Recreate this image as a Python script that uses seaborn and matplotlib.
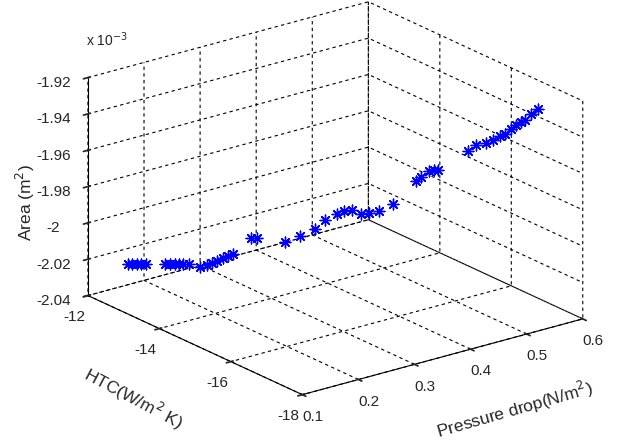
import numpy as np
import pandas as pd
import matplotlib
matplotlib.use("Agg")
import matplotlib.pyplot as plt
import seaborn as sns
from matplotlib.ticker import FuncFormatter

# Data (area in units of 1e-3 m^2)
pressure_drop = [0.141, 0.145, 0.150, 0.153, 0.159, 0.178, 0.183, 0.188, 0.192, 0.196,
                 0.202, 0.213, 0.220, 0.2255, 0.2305, 0.2365, 0.2416, 0.2466, 0.2647, 0.2707,
                 0.2988, 0.3139, 0.3289, 0.3390, 0.352, 0.359, 0.367, 0.3761, 0.3841, 0.3942,
                 0.4082, 0.4313, 0.4364, 0.4444, 0.4494, 0.4534, 0.4845, 0.4926, 0.5026, 0.5096,
                 0.5167, 0.5217, 0.5277, 0.5327, 0.5378, 0.5418, 0.5478, 0.5548]
htc = [-12.49, -12.54, -12.60, -12.64, -12.71, -12.94, -13.00, -13.06, -13.11, -13.16,
       -13.23, -13.36, -13.45, -13.51, -13.57, -13.64, -13.70, -13.76, -13.98, -14.05,
       -14.39, -14.57, -14.75, -14.87, -15.02, -15.11, -15.20, -15.31, -15.41, -15.53,
       -15.70, -15.98, -16.04, -16.13, -16.19, -16.24, -16.61, -16.71, -16.83, -16.92,
       -17.00, -17.06, -17.13, -17.19, -17.25, -17.30, -17.37, -17.46]
area = [-2.0218, -2.0217, -2.0215, -2.0214, -2.0213, -2.0208, -2.0206, -2.0205, -2.0204, -2.0203,
        -2.0201, -2.0215, -2.0202, -2.0190, -2.0177, -2.0159, -2.0147, -2.0134, -2.0041, -2.0040,
        -2.0054, -2.0017, -1.9974, -1.9922, -1.9885, -1.9867, -1.9859, -1.9879, -1.9871, -1.9857,
        -1.9815, -1.9682, -1.9658, -1.9628, -1.9622, -1.9620, -1.9507, -1.9472, -1.9458, -1.9440,
        -1.9416, -1.9403, -1.9374, -1.9351, -1.9333, -1.9321, -1.9286, -1.9256]

x_ticks = [0.1, 0.2, 0.3, 0.4, 0.5, 0.6]
y_ticks = [-18, -16, -14, -12]
z_ticks = [-2.04, -2.02, -2.00, -1.98, -1.96, -1.94, -1.92]

df = pd.DataFrame({"pressure": pressure_drop, "htc": htc, "area": area})

sns.set_theme(style="white")
plt.rcParams["font.family"] = ["Liberation Sans", "DejaVu Sans"]
plt.rcParams["font.size"] = 10.5

fig = plt.figure(figsize=(6.25, 4.42), dpi=100)
ax = fig.add_axes([0.027, 0.038, 1.0, 1.0], projection="3d")
ax.set_proj_type("ortho")
ax.view_init(elev=20.7, azim=-127.4)
ax.set_box_aspect((1, 1, 0.66), zoom=1.21)

blue = sns.color_palette(["#0000ff"])[0]
ax.scatter(df["pressure"], df["htc"], df["area"], marker=(8, 2, 0), s=60,
           color=blue, linewidths=1.0, depthshade=False)

ax.set_xlim(0.1, 0.6)
ax.set_ylim(-18, -12)
ax.set_zlim(-2.04, -1.92)
ax.set_xticks(x_ticks)
ax.set_yticks(y_ticks)
ax.set_zticks(z_ticks)
fmt = FuncFormatter(lambda v, p: f"{v:g}")
ax.xaxis.set_major_formatter(fmt)
ax.yaxis.set_major_formatter(fmt)
ax.zaxis.set_major_formatter(FuncFormatter(lambda v, p: f"{round(v, 2):g}"))
ax.xaxis.set_tick_params(pad=0)
ax.yaxis.set_tick_params(pad=0)

for axis in (ax.xaxis, ax.yaxis, ax.zaxis):
    axis.set_pane_color((1, 1, 1, 0))
    axis.pane.set_edgecolor((1, 1, 1, 0))
    axis._axinfo["grid"].update(color="black", linestyle=(0, (3, 3)), linewidth=0.8)
    axis.line.set_color("black")
    axis.line.set_linewidth(0.8)
    axis._axinfo["tick"]["color"] = "black"
ax.grid(True)

# Axis titles placed as figure text to match the reference positions
fig.text(515 / 625, 1 - 410 / 442, "Pressure drop(N/m$^2$)", fontsize=12.5,
         rotation=16, ha="center", va="center")
fig.text(133 / 625, 1 - 398 / 442, "HTC(W/m$^2$ K)", fontsize=12.5,
         rotation=-28, ha="center", va="center")
fig.text(25 / 625, 1 - 203 / 442, "Area (m$^2$)", fontsize=12.5,
         rotation=90, ha="center", va="center")

fig.text(0.137, 0.895, "x 10$^{-3}$", fontsize=10)

fig.savefig("out.png", dpi=100)
